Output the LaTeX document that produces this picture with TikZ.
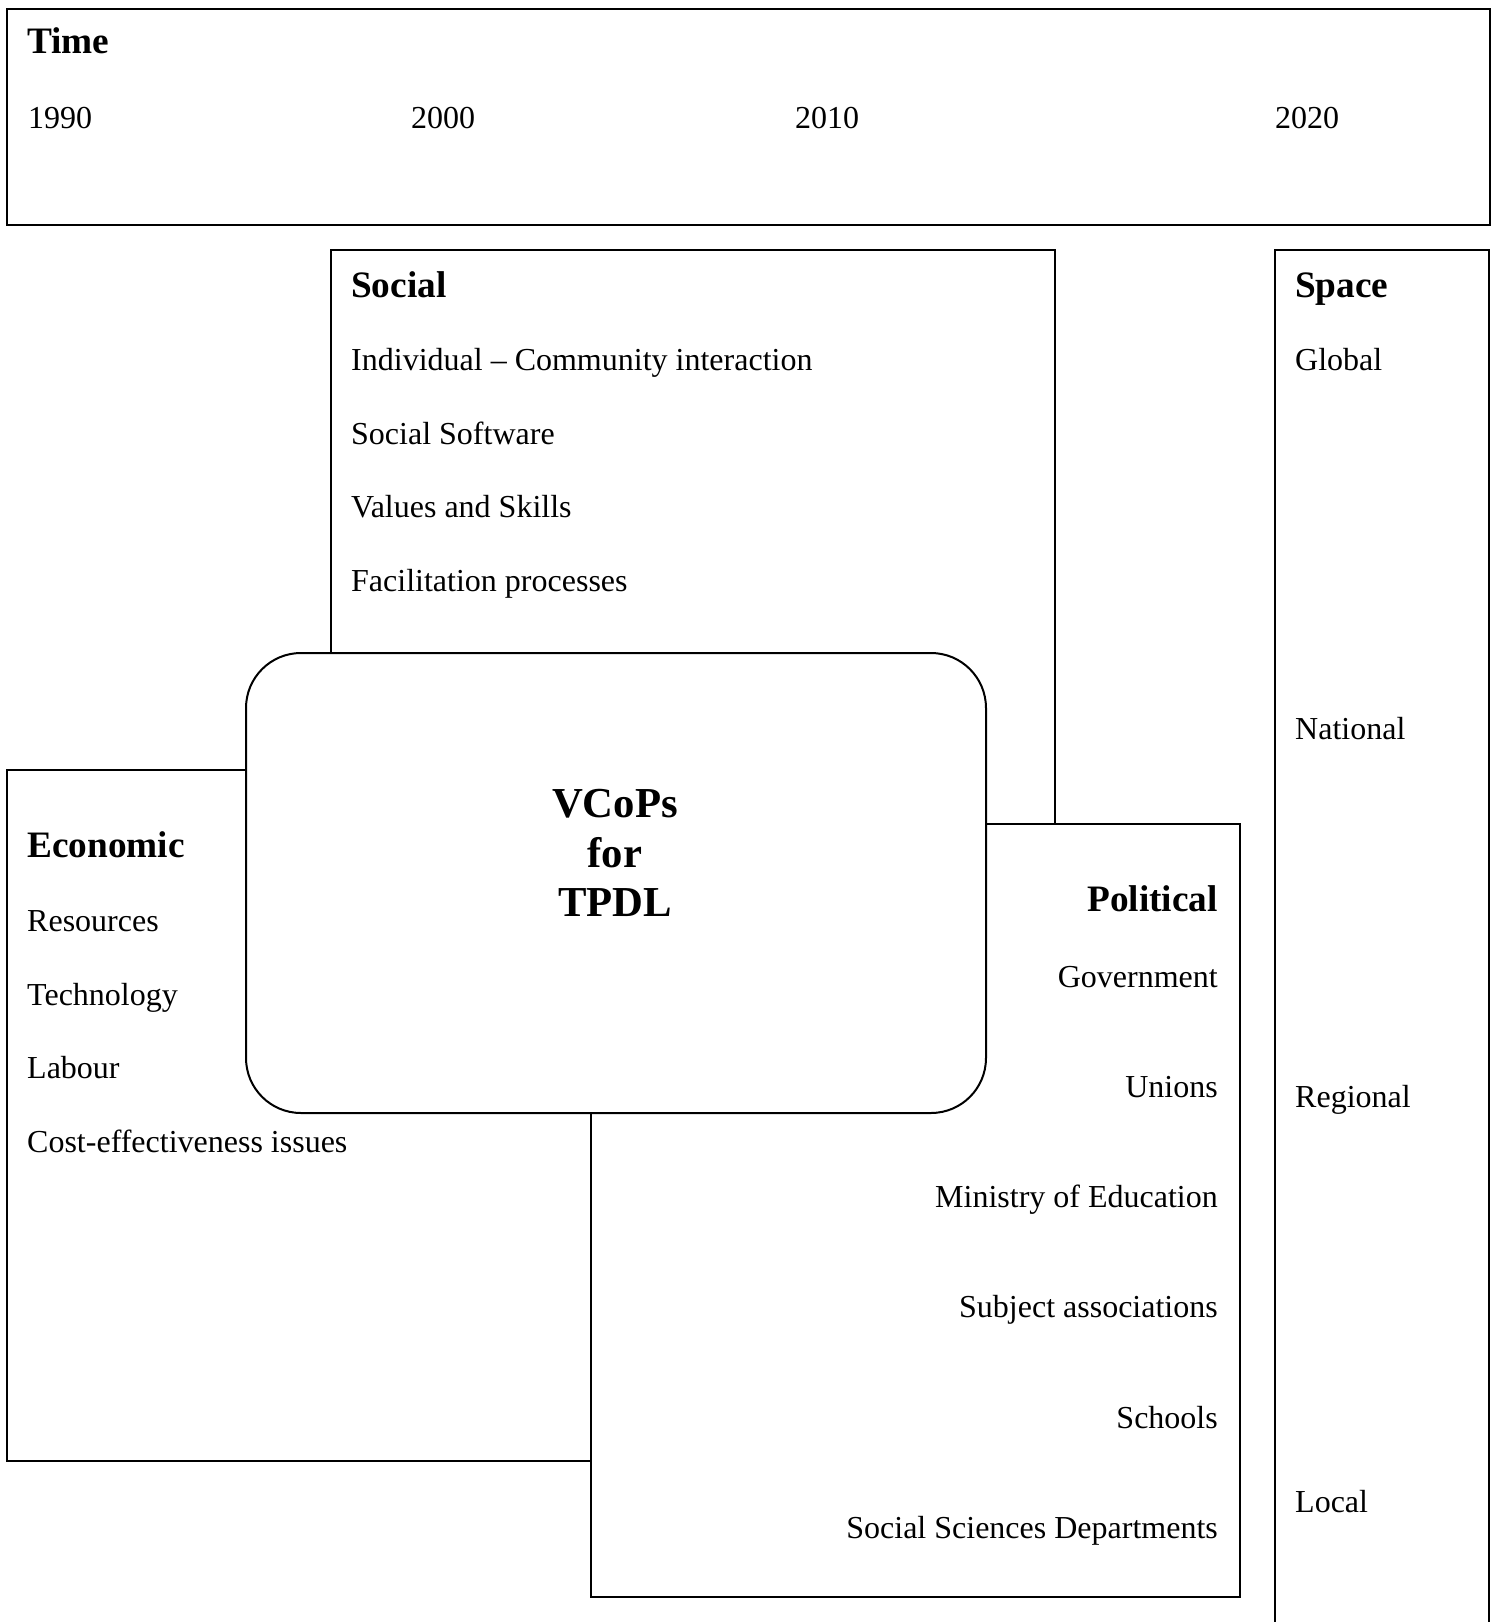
\documentclass[tikz,border=0pt]{standalone}
\usepackage{fontspec}
\setmainfont{Liberation Serif}
\newcommand\itemfont{\fontsize{32}{38}\selectfont}
\newcommand\titlefont{\bfseries\fontsize{37.3}{44}\selectfont}
\newcommand\bigfont{\bfseries\fontsize{42.7}{50}\selectfont}
\tikzset{
  box/.style={draw, line width=2pt, fill=white, inner sep=0pt, anchor=north west},
  ttl/.style={font=\titlefont, anchor=base west, inner sep=0pt},
  itm/.style={font=\itemfont, anchor=base west, inner sep=0pt},
  itmr/.style={font=\itemfont, anchor=base east, inner sep=0pt},
  ttlr/.style={font=\titlefont, anchor=base east, inner sep=0pt},
  big/.style={font=\bigfont, anchor=base, inner sep=0pt},
}
\begin{document}
\begin{tikzpicture}[x=1pt,y=-1pt]
\useasboundingbox[fill=white] (0,0) rectangle (1496,1622);
% boxes
\node[box, minimum width=1483pt, minimum height=216pt] (timebox) at (6,8) {};
\node[box, minimum width=724pt, minimum height=751pt] (socialbox) at (330,249) {};
\node[box, minimum width=214pt, minimum height=1420pt] (spacebox) at (1274,249) {};
\node[box, minimum width=584pt, minimum height=691pt] (econbox) at (6,769) {};
\node[box, minimum width=649pt, minimum height=773pt] (polbox) at (590,823) {};
\node[box, minimum width=740pt, minimum height=460pt, rounded corners=55pt] (vcopsbox) at (245,652) {};
% time
\node[ttl] (time) at (27,53) {Time};
\node[itm] (y1990) at (28,128) {1990};
\node[itm] (y2000) at (411,128) {2000};
\node[itm] (y2010) at (795,128) {2010};
\node[itm] (y2020) at (1275,128) {2020};
% social
\node[ttl] (social) at (351,297) {Social};
\node[itm] (s1) at (351,370) {Individual – Community interaction};
\node[itm] (s2) at (351,444) {Social Software};
\node[itm] (s3) at (351,517) {Values and Skills};
\node[itm] (s4) at (351,591) {Facilitation processes};
% space
\node[ttl] (space) at (1295,297) {Space};
\node[itm] (global) at (1295,370) {Global};
\node[itm] (national) at (1295,739) {National};
\node[itm] (regional) at (1295,1107) {Regional};
\node[itm] (local) at (1295,1512) {Local};
% economic
\node[ttl] (economic) at (27,857) {Economic};
\node[itm] (e1) at (27,931) {Resources};
\node[itm] (e2) at (27,1005) {Technology};
\node[itm] (e3) at (27,1078) {Labour};
\node[itm] (e4) at (27,1152) {Cost-effectiveness issues};
% political
\node[ttlr] (political) at (1218,911) {Political};
\node[itmr] (p1) at (1218,987) {Government};
\node[itmr] (p2) at (1218,1097) {Unions};
\node[itmr] (p3) at (1218,1207) {Ministry of Education};
\node[itmr] (p4) at (1218,1317) {Subject associations};
\node[itmr] (p5) at (1218,1428) {Schools};
\node[itmr] (p6) at (1218,1538) {Social Sciences Departments};
% centre
\node[big] (v1) at (615,817) {VCoPs};
\node[big] (v2) at (615,867) {for};
\node[big] (v3) at (615,916) {TPDL};
\end{tikzpicture}
\end{document}
